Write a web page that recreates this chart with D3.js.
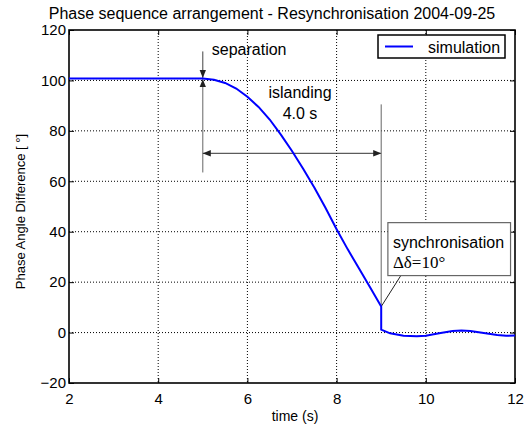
<!DOCTYPE html>
<html>
<head>
<meta charset="utf-8">
<script src="https://cdn.jsdelivr.net/npm/d3@7"></script>
<style>
  body { margin: 0; background: #fff; }
  text { fill: #000; }
</style>
</head>
<body>
<svg class="chart"></svg>
<script>
var time = [2, 5, 5.25, 5.5, 5.75, 6, 6.25, 6.5, 6.75, 7, 7.25, 7.5, 7.75, 8, 8.25, 8.5, 8.75, 9,
            9, 9.2, 9.5, 9.8, 10, 10.3, 10.6, 10.8, 11, 11.3, 11.6, 11.8, 12];
var angle = [100.8, 100.8, 100.3, 99, 96.8, 93.5, 89.5, 84.5, 78.5, 72, 65, 57.5, 49.5, 41, 33, 25.5, 18, 10.3,
             1.2, -0.3, -1.3, -1.5, -1.3, -0.3, 0.6, 0.8, 0.6, -0.2, -1.0, -1.3, -1.2];
var xTicks = [2, 4, 6, 8, 10, 12];
var yTicks = [-20, 0, 20, 40, 60, 80, 100, 120];

var width = 529, height = 425;
var plotL = 69, plotR = 515, plotT = 30, plotB = 383;
var sans = "Arial, 'Liberation Sans', sans-serif";

var svg = d3.select(".chart").attr("width", width).attr("height", height)
  .style("font-family", sans);

var x = d3.scaleLinear().domain([2, 12]).range([plotL, plotR]);
var y = d3.scaleLinear().domain([-20, 120]).range([plotB, plotT]);

// arrow heads
var defs = svg.append("defs");
defs.append("marker")
  .attr("id", "arr")
  .attr("viewBox", "0 0 10 10")
  .attr("refX", 10).attr("refY", 5)
  .attr("markerWidth", 8).attr("markerHeight", 8)
  .attr("markerUnits", "userSpaceOnUse")
  .attr("orient", "auto-start-reverse")
  .append("path")
  .attr("d", "M0,1 L10,5 L0,9 Z")
  .attr("fill", "#222");

// grid
svg.append("g").selectAll("line").data(xTicks.slice(1, -1)).enter().append("line")
  .attr("x1", function(d) { return x(d); }).attr("x2", function(d) { return x(d); })
  .attr("y1", plotT).attr("y2", plotB)
  .attr("stroke", "#000").attr("stroke-dasharray", "1,2");
svg.append("g").selectAll("line").data(yTicks.slice(1, -1)).enter().append("line")
  .attr("y1", function(d) { return y(d); }).attr("y2", function(d) { return y(d); })
  .attr("x1", plotL).attr("x2", plotR)
  .attr("stroke", "#000").attr("stroke-dasharray", "1,2");

// axes
var xAxis = svg.append("g").attr("transform", "translate(0," + plotB + ")")
  .call(d3.axisBottom(x).tickValues(xTicks).tickSize(-5).tickPadding(10));
var yAxis = svg.append("g").attr("transform", "translate(" + plotL + ",0)")
  .call(d3.axisLeft(y).tickValues(yTicks).tickSize(-5).tickPadding(3));
[xAxis, yAxis].forEach(function(a) {
  a.select(".domain").remove();
  a.selectAll("text").attr("font-size", 15).attr("font-family", sans);
});
svg.append("g").attr("transform", "translate(0," + plotT + ")")
  .call(d3.axisTop(x).tickValues(xTicks).tickSize(-5).tickFormat(""))
  .select(".domain").remove();
svg.append("g").attr("transform", "translate(" + plotR + ",0)")
  .call(d3.axisRight(y).tickValues(yTicks).tickSize(-5).tickFormat(""))
  .select(".domain").remove();

svg.append("rect")
  .attr("x", plotL).attr("y", plotT)
  .attr("width", plotR - plotL).attr("height", plotB - plotT)
  .attr("fill", "none").attr("stroke", "#000").attr("stroke-width", 1.6);

// annotations
svg.append("line")
  .attr("x1", x(5)).attr("x2", x(5)).attr("y1", y(111.5)).attr("y2", y(101))
  .attr("stroke", "#444").attr("marker-end", "url(#arr)");
svg.append("line")
  .attr("x1", x(5)).attr("x2", x(5)).attr("y1", y(63.5)).attr("y2", y(100.5))
  .attr("stroke", "#666").attr("marker-end", "url(#arr)");
svg.append("line")
  .attr("x1", x(5)).attr("x2", x(9)).attr("y1", y(71.1)).attr("y2", y(71.1))
  .attr("stroke", "#333")
  .attr("marker-start", "url(#arr)").attr("marker-end", "url(#arr)");
svg.append("line")
  .attr("x1", x(9)).attr("x2", x(9)).attr("y1", y(90.5)).attr("y2", y(10.3))
  .attr("stroke", "#666");

svg.append("text").attr("x", x(5) + 9).attr("y", 55).attr("font-size", 16).text("separation");
svg.append("text").attr("x", 300).attr("y", 98).attr("font-size", 16)
  .attr("text-anchor", "middle").text("islanding");
svg.append("text").attr("x", 300).attr("y", 119).attr("font-size", 16)
  .attr("text-anchor", "middle").text("4.0 s");

// synchronisation box
svg.append("line")
  .attr("x1", x(9.44)).attr("y1", y(22.6)).attr("x2", x(9)).attr("y2", y(10.3))
  .attr("stroke", "#222");
svg.append("rect")
  .attr("x", x(9.15)).attr("y", y(43.6))
  .attr("width", x(11.9) - x(9.15)).attr("height", y(22.6) - y(43.6))
  .attr("fill", "#fff").attr("stroke", "#666").attr("stroke-width", 1.2);
svg.append("text").attr("x", x(9.15) + 5).attr("y", 248).attr("font-size", 16).text("synchronisation");
svg.append("text").attr("x", x(9.15) + 5).attr("y", 268).attr("font-size", 17)
  .style("font-family", "'Liberation Serif', 'DejaVu Serif', serif").text("Δδ=10°");

// data line
var line = d3.line()
  .x(function(d, i) { return x(time[i]); })
  .y(function(d) { return y(d); });
svg.append("path")
  .attr("d", line(angle))
  .attr("fill", "none").attr("stroke", "#0000ff").attr("stroke-width", 2);

// legend
var lg = svg.append("g");
lg.append("rect").attr("x", 378).attr("y", 35).attr("width", 127).attr("height", 23)
  .attr("fill", "#fff").attr("stroke", "#000").attr("stroke-width", 1.5);
lg.append("line").attr("x1", 385).attr("x2", 413).attr("y1", 46.5).attr("y2", 46.5)
  .attr("stroke", "#0000ff").attr("stroke-width", 2);
lg.append("text").attr("x", 428).attr("y", 52.5).attr("font-size", 16).text("simulation");

// titles
svg.append("text").attr("x", 272).attr("y", 19).attr("font-size", 16)
  .attr("text-anchor", "middle").text("Phase sequence arrangement - Resynchronisation 2004-09-25");
svg.append("text").attr("x", 295).attr("y", 421).attr("font-size", 14)
  .attr("text-anchor", "middle").text("time (s)");
svg.append("text").attr("transform", "translate(25," + ((plotT + plotB) / 2 + 5) + ") rotate(-90)")
  .attr("font-size", 13).attr("text-anchor", "middle").text("Phase Angle Difference [ °]");
</script>
</body>
</html>
